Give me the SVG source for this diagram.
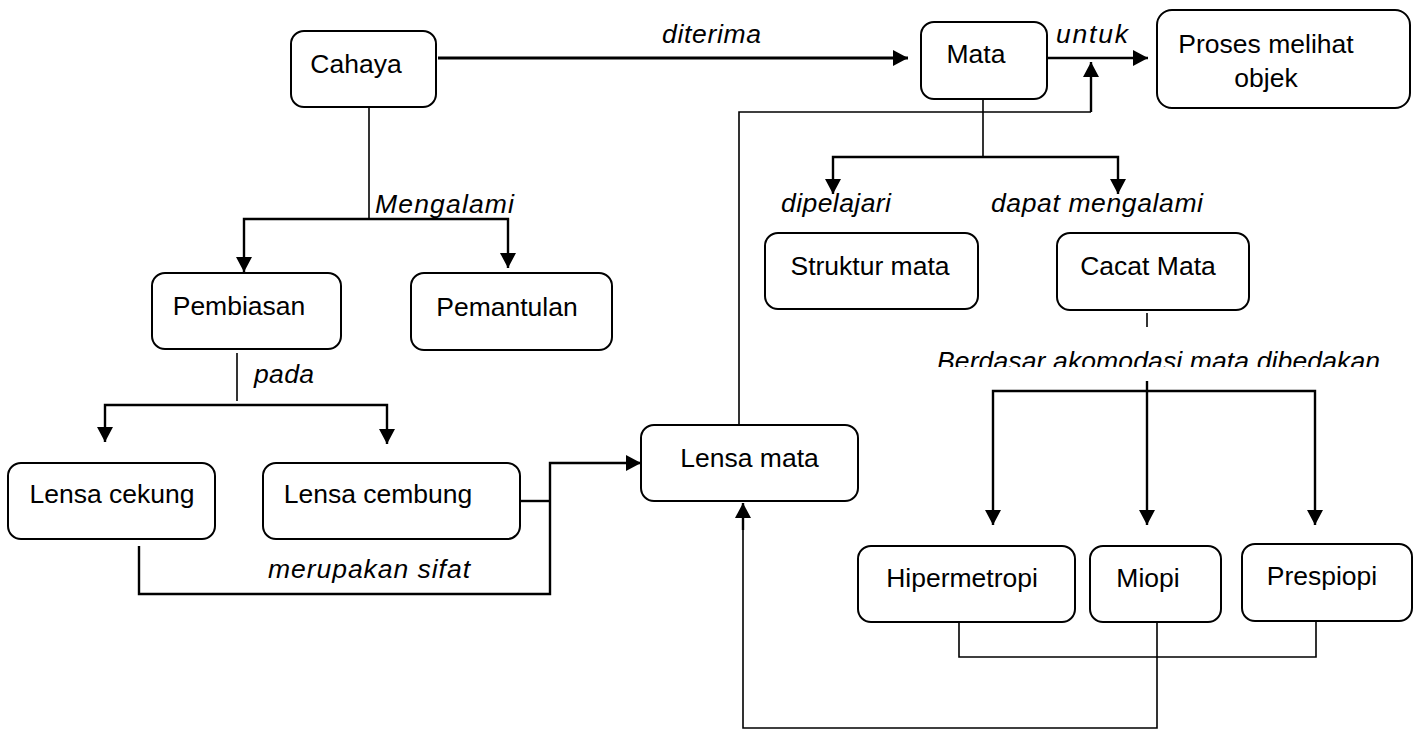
<svg xmlns="http://www.w3.org/2000/svg" width="1416" height="730" viewBox="0 0 1416 730">
  <style>
    .box { fill: #ffffff; stroke: #000000; stroke-width: 2; }
    .lbl { font-family: "Liberation Sans", Arial, sans-serif; font-size: 26.5px; fill: #000000; text-anchor: middle; }
    .it { font-family: "Liberation Sans", Arial, sans-serif; font-size: 26.5px; font-style: italic; fill: #000000; }
    .c { fill: none; stroke: #000000; stroke-width: 2.4; }
    .thin { fill: none; stroke: #000000; stroke-width: 1.6; }
    .thick { fill: none; stroke: #000000; stroke-width: 3; }
  </style>
  <defs>
    <marker id="arr" markerUnits="userSpaceOnUse" markerWidth="17" markerHeight="17" refX="15" refY="8" orient="auto">
      <path d="M0,0 L15,8 L0,16 z" fill="#000000"/>
    </marker>
    <clipPath id="clipB">
      <rect x="900" y="330" width="516" height="37"/>
    </clipPath>
  </defs>
  <rect width="1416" height="730" fill="#ffffff"/>

  <g id="connectors">
    <path class="thick" d="M438,58 H908" marker-end="url(#arr)"/>
    <path class="c" d="M1047,58 H1148" marker-end="url(#arr)"/>
    <path class="thin" d="M739,425 V112 H1091"/>
    <path class="c" d="M1091,112 V62" marker-end="url(#arr)"/>
    <path class="thin" d="M369,108 V219"/>
    <path class="c" d="M369,219 H244 V272" marker-end="url(#arr)"/>
    <path class="c" d="M369,219 H508 V268" marker-end="url(#arr)"/>
    <path class="thin" d="M237,353 V401"/>
    <path class="c" d="M237,405 H105 V442" marker-end="url(#arr)"/>
    <path class="c" d="M237,405 H387 V444" marker-end="url(#arr)"/>
    <path class="c" d="M520,501 H550"/>
    <path class="c" d="M139,546 V594 H550 V463 H641" marker-end="url(#arr)"/>
    <path class="thin" d="M983,98 V157"/>
    <path class="c" d="M983,157 H833 V194" marker-end="url(#arr)"/>
    <path class="c" d="M983,157 H1118 V194" marker-end="url(#arr)"/>
    <path class="thin" d="M1147,313 V327"/>
    <path class="c" d="M1147,381 V525" marker-end="url(#arr)"/>
    <path class="c" d="M1147,391 H993 V525" marker-end="url(#arr)"/>
    <path class="c" d="M1147,391 H1315 V525" marker-end="url(#arr)"/>
    <path class="thin" d="M959,622 V657 H1316 V621"/>
    <path class="thin" d="M1157,622 V728 H743 V515"/>
    <path class="c" d="M743,530 V503" marker-end="url(#arr)"/>
  </g>

  <g id="edge-labels">
    <text class="it" x="662" y="43" textLength="99" lengthAdjust="spacing">diterima</text>
    <text class="it" x="1056" y="43" textLength="72" lengthAdjust="spacing">untuk</text>
    <text class="it" x="375" y="213" textLength="139" lengthAdjust="spacing">Mengalami</text>
    <text class="it" x="254" y="383" textLength="60" lengthAdjust="spacing">pada</text>
    <text class="it" x="268" y="578" textLength="202" lengthAdjust="spacing">merupakan sifat</text>
    <text class="it" x="781" y="212" textLength="110" lengthAdjust="spacing">dipelajari</text>
    <text class="it" x="991" y="212" textLength="212" lengthAdjust="spacing">dapat mengalami</text>
    <text class="it" x="937" y="370" textLength="443" lengthAdjust="spacing" clip-path="url(#clipB)">Berdasar akomodasi mata dibedakan</text>
  </g>

  <g id="cahaya">
    <rect class="box" x="291" y="31" width="145" height="76" rx="13"/>
    <text class="lbl" x="356" y="73">Cahaya</text>
  </g>
  <g id="mata">
    <rect class="box" x="921" y="22" width="126" height="77" rx="13"/>
    <text class="lbl" x="976" y="63">Mata</text>
  </g>
  <g id="proses">
    <rect class="box" x="1157" y="10" width="253" height="98" rx="15"/>
    <text class="lbl" x="1266" y="53">Proses melihat</text>
    <text class="lbl" x="1266" y="87">objek</text>
  </g>
  <g id="pembiasan">
    <rect class="box" x="152" y="273" width="189" height="76" rx="13"/>
    <text class="lbl" x="239" y="315">Pembiasan</text>
  </g>
  <g id="pemantulan">
    <rect class="box" x="411" y="273" width="201" height="77" rx="13"/>
    <text class="lbl" x="507" y="316">Pemantulan</text>
  </g>
  <g id="struktur-mata">
    <rect class="box" x="765" y="233" width="213" height="76" rx="13"/>
    <text class="lbl" x="870" y="275">Struktur mata</text>
  </g>
  <g id="cacat-mata">
    <rect class="box" x="1057" y="233" width="192" height="77" rx="13"/>
    <text class="lbl" x="1148" y="275">Cacat Mata</text>
  </g>
  <g id="lensa-cekung">
    <rect class="box" x="8" y="463" width="207" height="76" rx="13"/>
    <text class="lbl" x="112" y="503">Lensa cekung</text>
  </g>
  <g id="lensa-cembung">
    <rect class="box" x="263" y="463" width="257" height="76" rx="13"/>
    <text class="lbl" x="378" y="503">Lensa cembung</text>
  </g>
  <g id="lensa-mata">
    <rect class="box" x="641" y="425" width="217" height="76" rx="13"/>
    <text class="lbl" x="749.5" y="467">Lensa mata</text>
  </g>
  <g id="hipermetropi">
    <rect class="box" x="858" y="546" width="217" height="76" rx="13"/>
    <text class="lbl" x="962" y="587">Hipermetropi</text>
  </g>
  <g id="miopi">
    <rect class="box" x="1090" y="546" width="131" height="76" rx="13"/>
    <text class="lbl" x="1148" y="587">Miopi</text>
  </g>
  <g id="prespiopi">
    <rect class="box" x="1242" y="544" width="170" height="77" rx="13"/>
    <text class="lbl" x="1322" y="585">Prespiopi</text>
  </g>
</svg>
